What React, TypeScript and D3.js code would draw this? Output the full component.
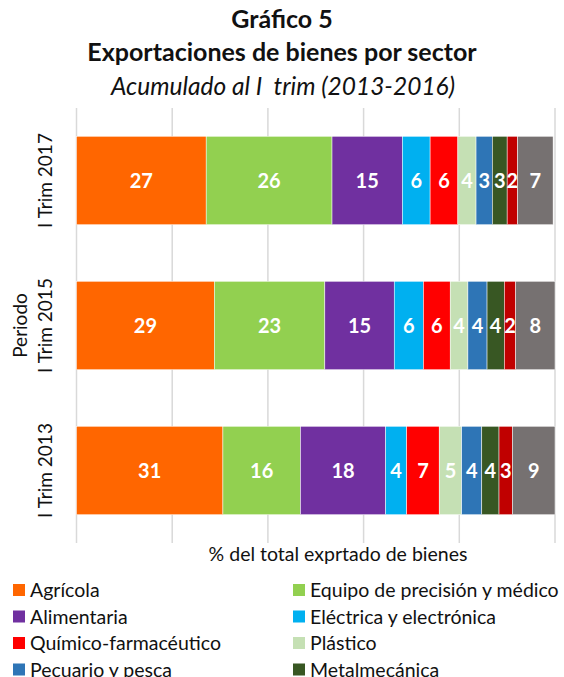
import * as d3 from 'd3';

const periods = ['I Trim 2017', 'I Trim 2015', 'I Trim 2013'];
const sectors = [
  'Agrícola',
  'Equipo de precisión y médico',
  'Alimentaria',
  'Eléctrica y electrónica',
  'Químico-farmacéutico',
  'Plástico',
  'Pecuario y pesca',
  'Metalmecánica',
  'Caucho',
  'Otros',
];
const colors = ['#FF6600', '#92D050', '#7030A0', '#00B0F0', '#FF0000', '#C5E0B4', '#2E75B6', '#385723', '#C00000', '#767171'];

// values per period, in sector order
const v2017 = [27.1, 26.3, 14.7, 5.8, 5.8, 3.8, 3.4, 3.1, 2.2, 7.4];
const v2015 = [28.8, 23.1, 14.5, 6.1, 5.6, 3.7, 4.0, 3.6, 2.4, 8.2];
const v2013 = [30.6, 16.2, 17.8, 4.4, 6.8, 4.7, 4.2, 3.6, 2.8, 8.9];
const values = [v2017, v2015, v2013];
const xTicks = [0, 20, 40, 60, 80, 100];

const font = 'Lato, "Open Sans", sans-serif';

const App = () => {
  const width = 564;
  const height = 677;
  const x = d3.scaleLinear().domain([0, 100]).range([76.5, 555]);
  const y = d3.scaleBand().domain(periods).range([108, 543]).paddingInner(0.39).paddingOuter(0.195);

  return (
    <svg width={width} height={height} style={{ position: 'absolute', left: 0, top: 0 }} fontFamily={font}>
      <text x={282} y={28} textAnchor="middle" fontWeight="bold" fontSize={25} fill="#111">Gráfico 5</text>
      <text x={282} y={61} textAnchor="middle" fontWeight="bold" fontSize={25} fill="#111">Exportaciones de bienes por sector</text>
      <text x={283} y={95} textAnchor="middle" fontStyle="italic" fontSize={24.5} fill="#111" style={{ whiteSpace: 'pre' }}>Acumulado al I  trim (2013-2016)</text>

      {xTicks.map(t => (
        <line key={t} x1={x(t)} x2={x(t)} y1={108} y2={543} stroke="#d9d9d9" strokeWidth={1.5} />
      ))}

      {periods.map((p, i) => {
        const stack = d3.cumsum(values[i]);
        return (
          <g key={p}>
            {values[i].map((v, j) => {
              const x0 = x(stack[j] - v);
              const x1 = x(stack[j]);
              return (
                <g key={j}>
                  <rect x={x0} y={y(p)} width={x1 - x0} height={y.bandwidth()} fill={colors[j]} stroke="#fff" strokeWidth={0.5} />
                  <text x={(x0 + x1) / 2} y={y(p)! + y.bandwidth() / 2} dy="0.36em" textAnchor="middle" fill="#fff" fontWeight="bold" fontSize={20}>
                    {Math.round(v)}
                  </text>
                </g>
              );
            })}
            <text transform={`translate(52,${y(p)! + y.bandwidth() / 2}) rotate(-90)`} textAnchor="middle" fontSize={19} fill="#111">{p}</text>
          </g>
        );
      })}

      <text transform={`translate(27,${y(periods[1])! + y.bandwidth() / 2}) rotate(-90)`} textAnchor="middle" fontSize={19} fill="#111">Periodo</text>
      <text x={338} y={561} textAnchor="middle" fontSize={19.5} fill="#111">% del total exprtado de bienes</text>

      {sectors.map((s, i) => {
        const col = i % 2;
        const row = Math.floor(i / 2);
        const lx = col === 0 ? 13 : 293;
        const ly = 590 + row * 26.5;
        return (
          <g key={s}>
            <rect x={lx} y={ly - 6} width={12} height={12} fill={colors[i]} />
            <text x={lx + 17} y={ly} dy="0.36em" fontSize={19.5} fill="#111">{s}</text>
          </g>
        );
      })}
    </svg>
  );
};

export default App;
